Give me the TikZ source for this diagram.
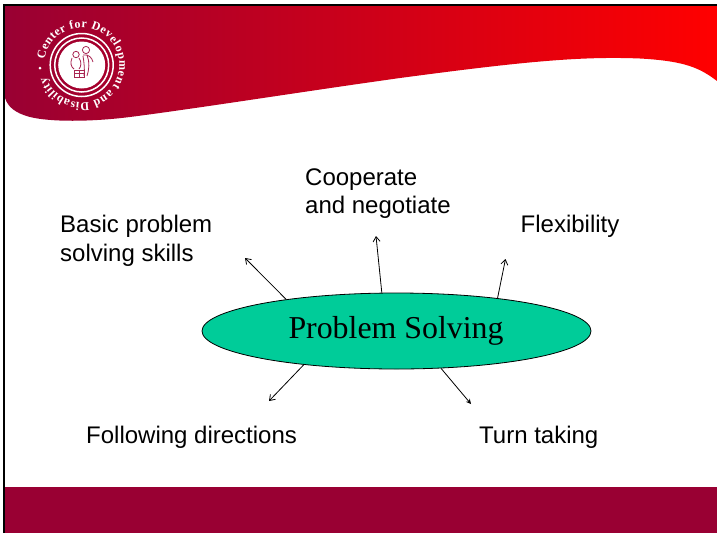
\documentclass[tikz,border=0pt]{standalone}
\usepackage{fontspec}
\setmainfont{Liberation Sans}
\newfontfamily\timesfont{Liberation Serif}
\usetikzlibrary{shapes.geometric,arrows.meta,decorations.text}
\definecolor{wine}{HTML}{990033}
\definecolor{midred}{HTML}{BE0028}
\definecolor{brightred}{HTML}{FF0000}
\definecolor{sea}{HTML}{00CC99}
\tikzset{
  label text/.style={anchor=base west,inner sep=0pt,font=\fontsize{24}{29}\selectfont,align=left,text=black},
  link/.style={draw=black,line width=0.8pt,-{Straight Barb[length=5pt,width=7pt]}},
  figure line/.style={draw=wine!85!white,line width=0.8pt}
}
\begin{document}
\begin{tikzpicture}[x=1pt,y=-1pt]
\useasboundingbox (0,0) rectangle (717,533);
\fill[white] (0,0) rectangle (717,533);
% header swoosh
\shade[left color=wine,middle color=midred,right color=brightred]
  (5,6) -- (717,6) -- (717,81)
  .. controls (700,68) and (685,61) .. (640,58.5)
  .. controls (580,56) and (520,62) .. (400,78)
  .. controls (300,92) and (200,108) .. (130,117)
  .. controls (90,122) and (50,122) .. (30,117)
  .. controls (15,113) and (8,107) .. (5,98) -- cycle;
% footer and frame
\fill[wine] (5,487) rectangle (717,533);
\fill[black] (3,4) rectangle (717,6);
\fill[black] (3,4) rectangle (5,533);
% logo
\coordinate (logo) at (81.7,65);
\draw[white,line width=1.5pt] (logo) circle[radius=31.5pt];
\draw[white,line width=1.5pt] (logo) circle[radius=27pt];
\fill[white] (logo) circle[radius=23.5pt];
\fill[white] (40,68) circle[radius=1.5pt];
\path[decorate,decoration={text along path,text align={fit to path},
   text={|\timesfont\bfseries\fontsize{12}{12}\selectfont\color{white}|Center for Development and Disability}}]
   (logo) ++(172:37.5pt) arc[start angle=172,end angle=-162,radius=37.5pt];
% figures
\draw[figure line] (86,50) circle[radius=3.6pt];
\draw[figure line] (76,54.5) circle[radius=3.2pt];
\draw[figure line] (83,55) .. controls (89,54) and (92,58) .. (93,62);
\draw[figure line] (87,55) .. controls (90,62) and (89,70) .. (87,76);
\draw[figure line] (83,56) .. controls (84,62) and (85,70) .. (84,76);
\draw[figure line] (72,58) .. controls (70,63) and (71,67) .. (74,69);
\draw[figure line] (79,58) .. controls (82,62) and (81,67) .. (79,69);
\draw[figure line] (74,70) rectangle (84,77);
\draw[figure line] (79,70) -- (79,77);
\draw[figure line] (74,73.5) -- (84,73.5);
% central ellipse
\node[ellipse,draw=black,line width=0.8pt,fill=sea,minimum width=389pt,minimum height=76pt,inner sep=0pt] (solve) at (396.5,331) {};
\node[inner sep=0pt,anchor=base,font=\timesfont\fontsize{31.85}{32}\selectfont] (solvetext) at (396,338) {Problem Solving};
% labels
\node[label text] (basic) at (60,232) {Basic problem};
\node[label text] (basic2) at (60,261) {solving skills};
\node[label text] (coop) at (305,185.5) {Cooperate};
\node[label text] (coop2) at (305,213.5) {and negotiate};
\node[label text] (flex) at (520.5,232) {Flexibility};
\node[label text] (follow) at (86,443) {Following directions};
\node[label text] (turn) at (479,443) {Turn taking};
% arrow ends
\coordinate (a1) at (245,258);
\coordinate (a2) at (376,236);
\coordinate (a3) at (505.5,259);
\coordinate (a4) at (269,401);
\coordinate (a5) at (471,404);
\draw[link] (solve.164.6) -- (a1);
\draw[link] (solve.111.5) -- (a2);
\draw[link] (solve.18.8) -- (a3);
\draw[link] (solve.200.3) -- (a4);
\draw[draw=black,line width=0.8pt,-{Stealth[length=5pt,width=5pt]}] (solve.-40.8) -- (a5);
\end{tikzpicture}
\end{document}
